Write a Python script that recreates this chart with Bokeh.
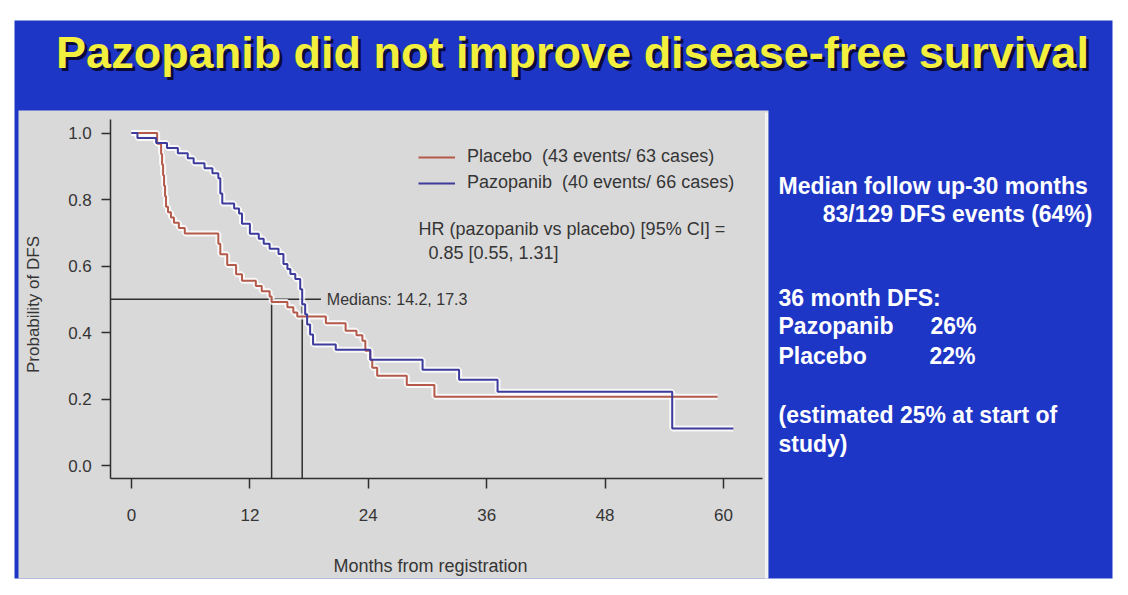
from math import pi
from bokeh.plotting import figure
from bokeh.models import (Range1d, LinearAxis, FixedTicker, PrintfTickFormatter,
                          Legend, LegendItem)
from bokeh.core.properties import value
from bokeh.embed import file_html
from bokeh.resources import INLINE

# ---------------- data ----------------
placebo_t = [0, 2.6, 3.0, 3.1, 3.2, 3.3, 3.4, 3.5, 3.7, 4.0,
             4.3, 4.8, 5.4, 8.8, 9.0, 9.7, 10.6, 11.2, 12.6, 13.2,
             14.0, 14.2, 15.8, 16.4, 16.8, 19.7, 21.7, 22.8, 23.4, 23.7,
             24.2, 24.4, 24.9, 27.9, 30.7, 59.4]
placebo_s = [1.0, 0.968, 0.937, 0.905, 0.873, 0.841, 0.810, 0.778, 0.762, 0.746,
             0.730, 0.714, 0.698, 0.667, 0.635, 0.603, 0.575, 0.556, 0.540, 0.524,
             0.508, 0.492, 0.476, 0.460, 0.448, 0.428, 0.405, 0.392, 0.375, 0.345,
             0.318, 0.294, 0.270, 0.242, 0.207, 0.207]

pazo_t = [0, 0.6, 2.5, 3.6, 4.7, 5.7, 6.3, 7.4, 8.2, 8.8,
          9.0, 9.2, 10.4, 10.9, 11.2, 12.0, 12.9, 13.4, 14.0, 14.9,
          15.4, 15.8, 16.1, 16.6, 17.1, 17.3, 17.6, 17.8, 18.1, 18.4,
          20.7, 24.2, 29.5, 33.2, 37.1, 54.8, 61.0]
pazo_s = [1.0, 0.985, 0.970, 0.955, 0.939, 0.924, 0.909, 0.894, 0.879, 0.864,
          0.818, 0.788, 0.773, 0.758, 0.727, 0.697, 0.682, 0.667, 0.652, 0.636,
          0.606, 0.591, 0.576, 0.561, 0.530, 0.485, 0.455, 0.424, 0.394, 0.364,
          0.348, 0.318, 0.288, 0.258, 0.222, 0.111, 0.111]

medians = [14.2, 17.3]
median_level = 0.5
x_ticks = [0, 12, 24, 36, 48, 60]
y_ticks = [0.0, 0.2, 0.4, 0.6, 0.8, 1.0]

title_text = "Pazopanib did not improve disease-free survival"
legend_labels = ["Placebo  (43 events/ 63 cases)", "Pazopanib  (40 events/ 66 cases)"]
hr_lines = ["HR (pazopanib vs placebo) [95% CI] =", "0.85 [0.55, 1.31]"]
x_title = "Months from registration"
y_title = "Probability of DFS"

# ---------------- layout / style ----------------
W, H = 1128, 595
FONT_NAME = "Liberation Sans"
FONT = value(FONT_NAME)
RED = "#b35a4b"
BLUE = "#3d3b9c"
INK = "#353535"
SLIDE = "#1e36c6"
PANEL = "#d9d9d9"

# month 0 at px 131, 9.867 px per month; survival 0 at py 465, 332.5 px per unit
X0, XS = 131.0, 9.867
Y0, YS = 465.0, 332.5

p = figure(width=W, height=H, output_backend="svg", toolbar_location=None,
           x_range=Range1d(0, W), y_range=Range1d(H, 0), min_border=0,
           x_axis_type=None, y_axis_type=None)
p.outline_line_color = None
p.background_fill_color = "white"
p.border_fill_color = "white"
p.extra_x_ranges = {"m": Range1d(-X0 / XS, (W - X0) / XS)}
p.extra_y_ranges = {"s": Range1d((Y0 - H) / YS, Y0 / YS)}

# slide background and plot panel
p.quad(left=[14], right=[1112], top=[20], bottom=[578], fill_color=SLIDE, line_color=None)
p.quad(left=[18], right=[768], top=[110], bottom=[578], fill_color=PANEL, line_color=None)
p.segment(x0=[766], y0=[112], x1=[766], y1=[578], line_color="#f2f2f2", line_width=3)

# title with shadow
p.text(x=[575], y=[55], text=[title_text], text_font=FONT, text_font_style="bold",
       text_font_size="45px", text_color="#0b0b3a", text_align="center", text_baseline="middle")
p.text(x=[572], y=[52], text=[title_text], text_font=FONT, text_font_style="bold",
       text_font_size="45px", text_color="#f3ef3e", text_align="center", text_baseline="middle")

# median reference lines
p.segment(x0=[-2.1], y0=[median_level], x1=[19.2], y1=[median_level],
          line_color="#2f2f2f", line_width=1.5, x_range_name="m", y_range_name="s")
p.segment(x0=medians, y0=[-0.04] * len(medians), x1=medians, y1=[median_level] * len(medians),
          line_color="#2f2f2f", line_width=1.5, x_range_name="m", y_range_name="s")
p.text(x=[19.8], y=[median_level],
       text=["Medians: " + ", ".join(str(m) for m in medians)],
       text_font=FONT, text_font_size="16px", text_color=INK, text_baseline="middle",
       x_range_name="m", y_range_name="s")

# KM curves with light halo
for t, s in ((placebo_t, placebo_s), (pazo_t, pazo_s)):
    p.step(t, s, mode="after", line_color="white", line_width=6, line_alpha=0.8,
           x_range_name="m", y_range_name="s")
r_pla = p.step(placebo_t, placebo_s, mode="after", line_color=RED, line_width=2,
               x_range_name="m", y_range_name="s")
r_paz = p.step(pazo_t, pazo_s, mode="after", line_color=BLUE, line_width=2,
               x_range_name="m", y_range_name="s")

legend = Legend(items=[LegendItem(label=legend_labels[0], renderers=[r_pla]),
                       LegendItem(label=legend_labels[1], renderers=[r_paz])],
                location=(418, 402), padding=0, margin=0, spacing=5,
                glyph_width=37, glyph_height=20, label_height=20, label_standoff=12,
                label_text_font=FONT_NAME, label_text_font_size="18px", label_text_color=INK,
                background_fill_alpha=0, border_line_color=None)
p.add_layout(legend)

p.text(x=[418, 428], y=[228, 252], text=hr_lines, text_font=FONT, text_font_size="18px",
       text_color=INK, text_baseline="middle")

# axes
xaxis = LinearAxis(x_range_name="m", y_range_name="s", fixed_location=-0.04,
                   bounds=(-2.1, 63.9), ticker=FixedTicker(ticks=x_ticks))
yaxis = LinearAxis(x_range_name="m", y_range_name="s", fixed_location=-2.1,
                   bounds=(-0.04, 1.04), ticker=FixedTicker(ticks=y_ticks),
                   formatter=PrintfTickFormatter(format="%.1f"))
for ax in (xaxis, yaxis):
    ax.axis_line_color = "#2f2f2f"
    ax.axis_line_width = 1.5
    ax.major_tick_line_color = "#2f2f2f"
    ax.major_tick_line_width = 1.5
    ax.major_tick_in = 0
    ax.minor_tick_line_color = None
    ax.major_label_text_font = FONT_NAME
    ax.major_label_text_font_size = "17px"
    ax.major_label_text_color = INK
xaxis.major_tick_out = 10
xaxis.major_label_standoff = 20
yaxis.major_tick_out = 9
yaxis.major_label_standoff = 10
p.add_layout(xaxis, "below")
p.add_layout(yaxis, "left")

# axis titles
p.text(x=[430], y=[565], text=[x_title], text_font=FONT, text_font_size="18px",
       text_color=INK, text_align="center", text_baseline="middle")
p.text(x=[33], y=[304], text=[y_title], text_font=FONT, text_font_size="17px",
       text_color=INK, text_align="center", text_baseline="middle", angle=pi / 2)

# right-hand notes
RF = dict(text_font=FONT, text_font_style="bold", text_font_size="23px",
          text_color="white", text_baseline="middle")
p.text(x=[778], y=[185], text=["Median follow up-30 months"], **RF)
p.text(x=[1092], y=[213], text=["83/129 DFS events (64%)"], text_align="right", **RF)
p.text(x=[778, 778, 778], y=[297, 325, 355], text=["36 month DFS:", "Pazopanib", "Placebo"], **RF)
p.text(x=[930, 929], y=[325, 355], text=["26%", "22%"], **RF)
p.text(x=[778, 778], y=[414, 443], text=["(estimated 25% at start of", "study)"], **RF)

open("out.html", "w").write(file_html(p, INLINE))
